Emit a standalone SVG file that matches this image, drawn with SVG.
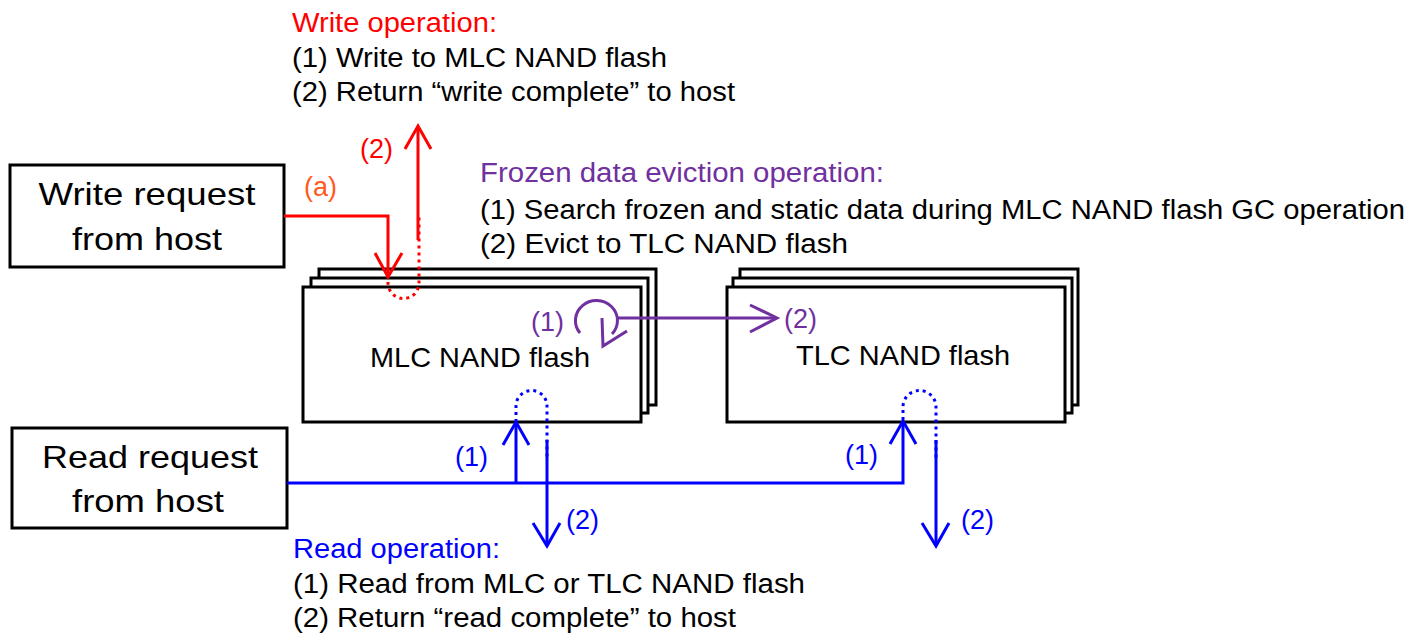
<svg xmlns="http://www.w3.org/2000/svg" width="1410" height="633" viewBox="0 0 1410 633">
<style>
text{font-family:"Liberation Sans",Arial,sans-serif;}
.box{fill:#fff;stroke:#000;stroke-width:3;}
.t{font-size:27px;fill:#000;}
.bt{font-size:32px;fill:#000;text-anchor:middle;}
.nt{font-size:28px;fill:#000;}
.lbl{font-size:27px;}
.red{stroke:#f00;fill:none;stroke-width:3;}
.blue{stroke:#00f;fill:none;stroke-width:3;}
.pur{stroke:#7030a0;fill:none;stroke-width:3;}
.dot{stroke-dasharray:3 4;}
</style>
<rect width="1410" height="633" fill="#fff"/>
<g id="write-request">
<rect class="box" x="10" y="165" width="274" height="102"/>
<text class="bt" x="147" y="205" textLength="217" lengthAdjust="spacingAndGlyphs">Write request</text>
<text class="bt" x="147" y="250" textLength="150" lengthAdjust="spacingAndGlyphs">from host</text>
</g>
<g id="read-request">
<rect class="box" x="12" y="428" width="275" height="100"/>
<text class="bt" x="150" y="468" textLength="216" lengthAdjust="spacingAndGlyphs">Read request</text>
<text class="bt" x="148" y="512" textLength="152" lengthAdjust="spacingAndGlyphs">from host</text>
</g>
<g id="mlc">
<rect class="box" x="319" y="269" width="337" height="136"/>
<rect class="box" x="311" y="278" width="337" height="135"/>
<rect class="box" x="303" y="287" width="338" height="135"/>
<text class="nt" x="370" y="367" textLength="220" lengthAdjust="spacingAndGlyphs">MLC NAND flash</text>
</g>
<g id="tlc">
<rect class="box" x="740" y="269" width="338" height="136"/>
<rect class="box" x="733" y="278" width="339" height="135"/>
<rect class="box" x="727" y="287" width="338" height="135"/>
<text class="nt" x="796" y="365" textLength="214" lengthAdjust="spacingAndGlyphs">TLC NAND flash</text>
</g>
<g id="write-op">
<text class="t" x="292" y="32" style="fill:#f00" textLength="205" lengthAdjust="spacingAndGlyphs">Write operation:</text>
<text class="t" x="292" y="67" textLength="375" lengthAdjust="spacingAndGlyphs">(1) Write to MLC NAND flash</text>
<text class="t" x="292" y="101" textLength="443" lengthAdjust="spacingAndGlyphs">(2) Return “write complete” to host</text>
</g>
<g id="evict-op">
<text class="t" x="480" y="182" style="fill:#7030a0" textLength="404" lengthAdjust="spacingAndGlyphs">Frozen data eviction operation:</text>
<text class="t" x="480" y="219" textLength="925" lengthAdjust="spacingAndGlyphs">(1) Search frozen and static data during MLC NAND flash GC operation</text>
<text class="t" x="480" y="253" textLength="368" lengthAdjust="spacingAndGlyphs">(2) Evict to TLC NAND flash</text>
</g>
<g id="read-op">
<text class="t" x="293" y="558" style="fill:#00f" textLength="207" lengthAdjust="spacingAndGlyphs">Read operation:</text>
<text class="t" x="293" y="593" textLength="512" lengthAdjust="spacingAndGlyphs">(1) Read from MLC or TLC NAND flash</text>
<text class="t" x="293" y="627" textLength="443" lengthAdjust="spacingAndGlyphs">(2) Return “read complete” to host</text>
</g>
<g id="connectors">
<path class="red" d="M284,216 H388 V276"/>
<path class="red" d="M375,253 L388,277 L402,253"/>
<path class="red dot" d="M388,268 V283 A15.5,15.5 0 0 0 419,283 V217"/>
<path class="red" d="M418,240 V127"/>
<path class="red" d="M405,149 L418,126 L431,149"/>
<text class="lbl" x="360" y="158" style="fill:#f00">(2)</text>
<text class="lbl" x="304" y="196" style="fill:#ff5a1e">(a)</text>
<path class="pur" d="M580,333 A21,20 0 1 1 612,334"/>
<path class="pur" d="M602,318 L603,346 L627,331"/>
<path class="pur" d="M617,318 H776"/>
<path class="pur" d="M750,305 L777,318 L750,332"/>
<text class="lbl" x="531" y="331" style="fill:#7030a0">(1)</text>
<text class="lbl" x="784" y="328" style="fill:#7030a0">(2)</text>
<path class="blue" d="M287,483 H903 V422"/>
<path class="blue" d="M516,483 V423"/>
<path class="blue" d="M503,445 L516,422 L529,445"/>
<path class="blue" d="M890,444 L903,421 L916,444"/>
<path class="blue dot" d="M516,422 V406 A15.5,15.5 0 0 1 547,406 V460"/>
<path class="blue dot" d="M903,420 V407 A16.5,16.5 0 0 1 936,407 V460"/>
<path class="blue" d="M547,440 V545"/>
<path class="blue" d="M533,523 L547,546 L560,523"/>
<path class="blue" d="M936,440 V545"/>
<path class="blue" d="M922,523 L936,546 L949,523"/>
<text class="lbl" x="455" y="466" style="fill:#00f">(1)</text>
<text class="lbl" x="845" y="464" style="fill:#00f">(1)</text>
<text class="lbl" x="566" y="529" style="fill:#00f">(2)</text>
<text class="lbl" x="961" y="529" style="fill:#00f">(2)</text>
</g>
</svg>
